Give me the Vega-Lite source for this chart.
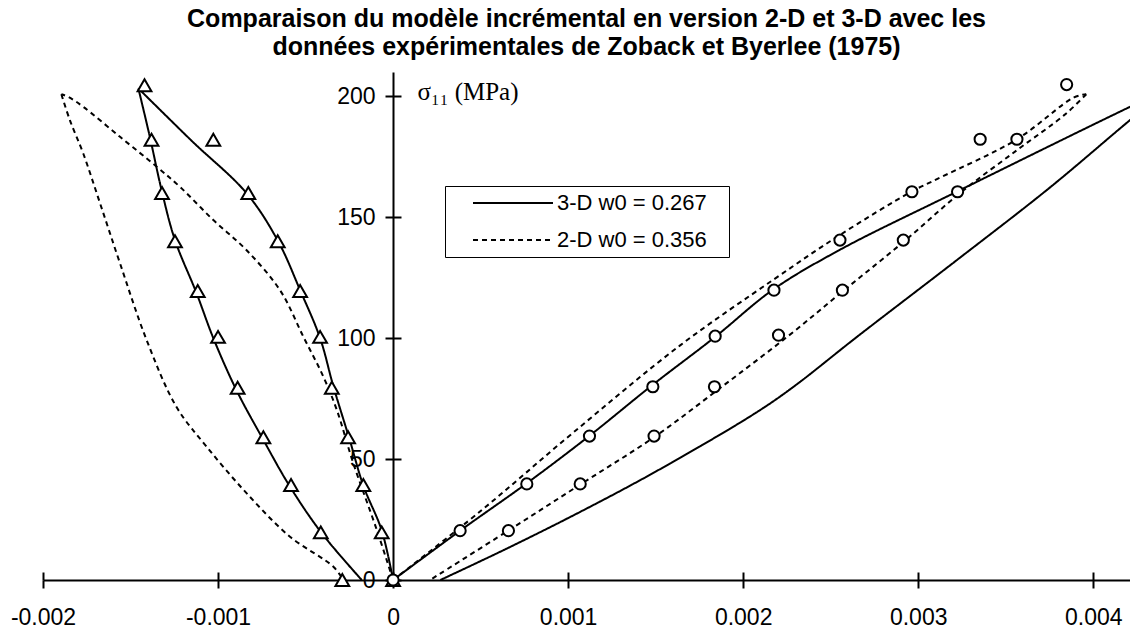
{
  "$schema": "https://vega.github.io/schema/vega-lite/v6.json",
  "width": 1087,
  "height": 508,
  "autosize": {"type": "none"},
  "padding": {"left": 43, "top": 72, "right": 0, "bottom": 48},
  "background": "white",
  "config": {"view": {"stroke": null}, "font": "Liberation Sans"},
  "title": {
    "text": ["Comparaison du modèle incrémental en version 2-D et 3-D avec les", "données expérimentales de Zoback et Byerlee (1975)"],
    "font": "Liberation Sans",
    "fontSize": 25,
    "fontWeight": "bold",
    "color": "black",
    "anchor": "middle",
    "frame": "group",
    "lineHeight": 28,
    "offset": 12
  },
  "datasets": {
    "curves": [
      {"model": "3-D w0 = 0.267", "curve": "3D-lat-load", "i": 0, "strain": 0, "stress": 0},
      {"model": "3-D w0 = 0.267", "curve": "3D-lat-load", "i": 1, "strain": -0.000065, "stress": 20.5},
      {"model": "3-D w0 = 0.267", "curve": "3D-lat-load", "i": 2, "strain": -0.00017, "stress": 39},
      {"model": "3-D w0 = 0.267", "curve": "3D-lat-load", "i": 3, "strain": -0.000248, "stress": 58},
      {"model": "3-D w0 = 0.267", "curve": "3D-lat-load", "i": 4, "strain": -0.000341, "stress": 80},
      {"model": "3-D w0 = 0.267", "curve": "3D-lat-load", "i": 5, "strain": -0.000417, "stress": 100},
      {"model": "3-D w0 = 0.267", "curve": "3D-lat-load", "i": 6, "strain": -0.000531, "stress": 119.8},
      {"model": "3-D w0 = 0.267", "curve": "3D-lat-load", "i": 7, "strain": -0.000655, "stress": 139.8},
      {"model": "3-D w0 = 0.267", "curve": "3D-lat-load", "i": 8, "strain": -0.000836, "stress": 159.8},
      {"model": "3-D w0 = 0.267", "curve": "3D-lat-load", "i": 9, "strain": -0.00115, "stress": 181.5},
      {"model": "3-D w0 = 0.267", "curve": "3D-lat-load", "i": 10, "strain": -0.001455, "stress": 203.2},
      {"model": "3-D w0 = 0.267", "curve": "3D-lat-unload", "i": 0, "strain": -0.001455, "stress": 203.2},
      {"model": "3-D w0 = 0.267", "curve": "3D-lat-unload", "i": 1, "strain": -0.001389, "stress": 183},
      {"model": "3-D w0 = 0.267", "curve": "3D-lat-unload", "i": 2, "strain": -0.001322, "stress": 161},
      {"model": "3-D w0 = 0.267", "curve": "3D-lat-unload", "i": 3, "strain": -0.001246, "stress": 140.5},
      {"model": "3-D w0 = 0.267", "curve": "3D-lat-unload", "i": 4, "strain": -0.001124, "stress": 118.8},
      {"model": "3-D w0 = 0.267", "curve": "3D-lat-unload", "i": 5, "strain": -0.001027, "stress": 100},
      {"model": "3-D w0 = 0.267", "curve": "3D-lat-unload", "i": 6, "strain": -0.000895, "stress": 78.5},
      {"model": "3-D w0 = 0.267", "curve": "3D-lat-unload", "i": 7, "strain": -0.000741, "stress": 57.9},
      {"model": "3-D w0 = 0.267", "curve": "3D-lat-unload", "i": 8, "strain": -0.000589, "stress": 38.6},
      {"model": "3-D w0 = 0.267", "curve": "3D-lat-unload", "i": 9, "strain": -0.000407, "stress": 19.3},
      {"model": "3-D w0 = 0.267", "curve": "3D-lat-unload", "i": 10, "strain": -0.000179, "stress": 0},
      {"model": "3-D w0 = 0.267", "curve": "3D-ax-load", "i": 0, "strain": 0, "stress": 0},
      {"model": "3-D w0 = 0.267", "curve": "3D-ax-load", "i": 1, "strain": 0.000383, "stress": 20.4},
      {"model": "3-D w0 = 0.267", "curve": "3D-ax-load", "i": 2, "strain": 0.000764, "stress": 40},
      {"model": "3-D w0 = 0.267", "curve": "3D-ax-load", "i": 3, "strain": 0.00112, "stress": 59.5},
      {"model": "3-D w0 = 0.267", "curve": "3D-ax-load", "i": 4, "strain": 0.00148, "stress": 80.5},
      {"model": "3-D w0 = 0.267", "curve": "3D-ax-load", "i": 5, "strain": 0.00184, "stress": 100.5},
      {"model": "3-D w0 = 0.267", "curve": "3D-ax-load", "i": 6, "strain": 0.00217, "stress": 120},
      {"model": "3-D w0 = 0.267", "curve": "3D-ax-load", "i": 7, "strain": 0.00255, "stress": 136.4},
      {"model": "3-D w0 = 0.267", "curve": "3D-ax-load", "i": 8, "strain": 0.00322, "stress": 160.5},
      {"model": "3-D w0 = 0.267", "curve": "3D-ax-load", "i": 9, "strain": 0.00421, "stress": 195.6},
      {"model": "3-D w0 = 0.267", "curve": "3D-ax-load", "i": 10, "strain": 0.00443, "stress": 203},
      {"model": "3-D w0 = 0.267", "curve": "3D-ax-unload", "i": 0, "strain": 0.00443, "stress": 203},
      {"model": "3-D w0 = 0.267", "curve": "3D-ax-unload", "i": 1, "strain": 0.00421, "stress": 190.1},
      {"model": "3-D w0 = 0.267", "curve": "3D-ax-unload", "i": 2, "strain": 0.00375, "stress": 162.1},
      {"model": "3-D w0 = 0.267", "curve": "3D-ax-unload", "i": 3, "strain": 0.00322, "stress": 132.2},
      {"model": "3-D w0 = 0.267", "curve": "3D-ax-unload", "i": 4, "strain": 0.00265, "stress": 100.5},
      {"model": "3-D w0 = 0.267", "curve": "3D-ax-unload", "i": 5, "strain": 0.00229, "stress": 80},
      {"model": "3-D w0 = 0.267", "curve": "3D-ax-unload", "i": 6, "strain": 0.00207, "stress": 69},
      {"model": "3-D w0 = 0.267", "curve": "3D-ax-unload", "i": 7, "strain": 0.0015, "stress": 44.8},
      {"model": "3-D w0 = 0.267", "curve": "3D-ax-unload", "i": 8, "strain": 0.00107, "stress": 28.2},
      {"model": "3-D w0 = 0.267", "curve": "3D-ax-unload", "i": 9, "strain": 0.00065, "stress": 13},
      {"model": "3-D w0 = 0.267", "curve": "3D-ax-unload", "i": 10, "strain": 0.00027, "stress": 0},
      {"model": "2-D w0 = 0.356", "curve": "2D-lat-load", "i": 0, "strain": 0, "stress": 0},
      {"model": "2-D w0 = 0.356", "curve": "2D-lat-load", "i": 1, "strain": -0.000093, "stress": 20.7},
      {"model": "2-D w0 = 0.356", "curve": "2D-lat-load", "i": 2, "strain": -0.000227, "stress": 48.2},
      {"model": "2-D w0 = 0.356", "curve": "2D-lat-load", "i": 3, "strain": -0.00032, "stress": 70},
      {"model": "2-D w0 = 0.356", "curve": "2D-lat-load", "i": 4, "strain": -0.000398, "stress": 84},
      {"model": "2-D w0 = 0.356", "curve": "2D-lat-load", "i": 5, "strain": -0.000512, "stress": 100.5},
      {"model": "2-D w0 = 0.356", "curve": "2D-lat-load", "i": 6, "strain": -0.000646, "stress": 119.8},
      {"model": "2-D w0 = 0.356", "curve": "2D-lat-load", "i": 7, "strain": -0.000838, "stress": 136.4},
      {"model": "2-D w0 = 0.356", "curve": "2D-lat-load", "i": 8, "strain": -0.001027, "stress": 148.8},
      {"model": "2-D w0 = 0.356", "curve": "2D-lat-load", "i": 9, "strain": -0.001217, "stress": 162.5},
      {"model": "2-D w0 = 0.356", "curve": "2D-lat-load", "i": 10, "strain": -0.00135, "stress": 170.8},
      {"model": "2-D w0 = 0.356", "curve": "2D-lat-load", "i": 11, "strain": -0.00156, "stress": 183.2},
      {"model": "2-D w0 = 0.356", "curve": "2D-lat-load", "i": 12, "strain": -0.00177, "stress": 195.6},
      {"model": "2-D w0 = 0.356", "curve": "2D-lat-load", "i": 13, "strain": -0.00185, "stress": 199.5},
      {"model": "2-D w0 = 0.356", "curve": "2D-lat-load", "i": 14, "strain": -0.001895, "stress": 200.8},
      {"model": "2-D w0 = 0.356", "curve": "2D-lat-unload", "i": 0, "strain": -0.001895, "stress": 200.8},
      {"model": "2-D w0 = 0.356", "curve": "2D-lat-unload", "i": 1, "strain": -0.001846, "stress": 190},
      {"model": "2-D w0 = 0.356", "curve": "2D-lat-unload", "i": 2, "strain": -0.00177, "stress": 176.3},
      {"model": "2-D w0 = 0.356", "curve": "2D-lat-unload", "i": 3, "strain": -0.001674, "stress": 155.7},
      {"model": "2-D w0 = 0.356", "curve": "2D-lat-unload", "i": 4, "strain": -0.00156, "stress": 130.9},
      {"model": "2-D w0 = 0.356", "curve": "2D-lat-unload", "i": 5, "strain": -0.001408, "stress": 99.2},
      {"model": "2-D w0 = 0.356", "curve": "2D-lat-unload", "i": 6, "strain": -0.001238, "stress": 71.6},
      {"model": "2-D w0 = 0.356", "curve": "2D-lat-unload", "i": 7, "strain": -0.001065, "stress": 55.1},
      {"model": "2-D w0 = 0.356", "curve": "2D-lat-unload", "i": 8, "strain": -0.000836, "stress": 35.8},
      {"model": "2-D w0 = 0.356", "curve": "2D-lat-unload", "i": 9, "strain": -0.000589, "stress": 17.9},
      {"model": "2-D w0 = 0.356", "curve": "2D-lat-unload", "i": 10, "strain": -0.000341, "stress": 5.5},
      {"model": "2-D w0 = 0.356", "curve": "2D-lat-unload", "i": 11, "strain": -0.000284, "stress": 0},
      {"model": "2-D w0 = 0.356", "curve": "2D-ax-load", "i": 0, "strain": 0, "stress": 0},
      {"model": "2-D w0 = 0.356", "curve": "2D-ax-load", "i": 1, "strain": 0.0005, "stress": 28.5},
      {"model": "2-D w0 = 0.356", "curve": "2D-ax-load", "i": 2, "strain": 0.00103, "stress": 61},
      {"model": "2-D w0 = 0.356", "curve": "2D-ax-load", "i": 3, "strain": 0.00164, "stress": 97},
      {"model": "2-D w0 = 0.356", "curve": "2D-ax-load", "i": 4, "strain": 0.00218, "stress": 124.5},
      {"model": "2-D w0 = 0.356", "curve": "2D-ax-load", "i": 5, "strain": 0.00255, "stress": 142.5},
      {"model": "2-D w0 = 0.356", "curve": "2D-ax-load", "i": 6, "strain": 0.00296, "stress": 160.5},
      {"model": "2-D w0 = 0.356", "curve": "2D-ax-load", "i": 7, "strain": 0.00313, "stress": 166.5},
      {"model": "2-D w0 = 0.356", "curve": "2D-ax-load", "i": 8, "strain": 0.00356, "stress": 182},
      {"model": "2-D w0 = 0.356", "curve": "2D-ax-load", "i": 9, "strain": 0.00389, "stress": 199.5},
      {"model": "2-D w0 = 0.356", "curve": "2D-ax-load", "i": 10, "strain": 0.00396, "stress": 200.8},
      {"model": "2-D w0 = 0.356", "curve": "2D-ax-unload", "i": 0, "strain": 0.00396, "stress": 200.8},
      {"model": "2-D w0 = 0.356", "curve": "2D-ax-unload", "i": 1, "strain": 0.00384, "stress": 192.5},
      {"model": "2-D w0 = 0.356", "curve": "2D-ax-unload", "i": 2, "strain": 0.00357, "stress": 178},
      {"model": "2-D w0 = 0.356", "curve": "2D-ax-unload", "i": 3, "strain": 0.00324, "stress": 160},
      {"model": "2-D w0 = 0.356", "curve": "2D-ax-unload", "i": 4, "strain": 0.00292, "stress": 140},
      {"model": "2-D w0 = 0.356", "curve": "2D-ax-unload", "i": 5, "strain": 0.00258, "stress": 120},
      {"model": "2-D w0 = 0.356", "curve": "2D-ax-unload", "i": 6, "strain": 0.00226, "stress": 101},
      {"model": "2-D w0 = 0.356", "curve": "2D-ax-unload", "i": 7, "strain": 0.00188, "stress": 80},
      {"model": "2-D w0 = 0.356", "curve": "2D-ax-unload", "i": 8, "strain": 0.00149, "stress": 59},
      {"model": "2-D w0 = 0.356", "curve": "2D-ax-unload", "i": 9, "strain": 0.00107, "stress": 39.5},
      {"model": "2-D w0 = 0.356", "curve": "2D-ax-unload", "i": 10, "strain": 0.00066, "stress": 20.5},
      {"model": "2-D w0 = 0.356", "curve": "2D-ax-unload", "i": 11, "strain": 0.000211, "stress": 0}
    ],
    "measures": [
      {"serie": "lateral", "strain": -0.00142, "stress": 204.5},
      {"serie": "lateral", "strain": -0.00138, "stress": 182},
      {"serie": "lateral", "strain": -0.00132, "stress": 160},
      {"serie": "lateral", "strain": -0.001246, "stress": 140},
      {"serie": "lateral", "strain": -0.001116, "stress": 119.5},
      {"serie": "lateral", "strain": -0.001, "stress": 100.5},
      {"serie": "lateral", "strain": -0.000888, "stress": 79.5},
      {"serie": "lateral", "strain": -0.000741, "stress": 59},
      {"serie": "lateral", "strain": -0.000583, "stress": 39.3},
      {"serie": "lateral", "strain": -0.000413, "stress": 19.7},
      {"serie": "lateral", "strain": -0.00029, "stress": 0},
      {"serie": "lateral", "strain": -0.001027, "stress": 182},
      {"serie": "lateral", "strain": -0.000827, "stress": 160},
      {"serie": "lateral", "strain": -0.000659, "stress": 140},
      {"serie": "lateral", "strain": -0.000531, "stress": 119.5},
      {"serie": "lateral", "strain": -0.000417, "stress": 100.5},
      {"serie": "lateral", "strain": -0.00035, "stress": 79.5},
      {"serie": "lateral", "strain": -0.000257, "stress": 59},
      {"serie": "lateral", "strain": -0.00017, "stress": 39.3},
      {"serie": "lateral", "strain": -0.000065, "stress": 19.7},
      {"serie": "lateral", "strain": 0, "stress": 0},
      {"serie": "axial", "strain": 0, "stress": 0},
      {"serie": "axial", "strain": 0.000383, "stress": 20.4},
      {"serie": "axial", "strain": 0.000659, "stress": 20.4},
      {"serie": "axial", "strain": 0.000764, "stress": 39.7},
      {"serie": "axial", "strain": 0.001069, "stress": 39.7},
      {"serie": "axial", "strain": 0.001122, "stress": 59.5},
      {"serie": "axial", "strain": 0.001491, "stress": 59.5},
      {"serie": "axial", "strain": 0.001484, "stress": 79.9},
      {"serie": "axial", "strain": 0.001836, "stress": 79.9},
      {"serie": "axial", "strain": 0.00184, "stress": 100.8},
      {"serie": "axial", "strain": 0.002202, "stress": 101.2},
      {"serie": "axial", "strain": 0.002176, "stress": 119.8},
      {"serie": "axial", "strain": 0.002567, "stress": 119.8},
      {"serie": "axial", "strain": 0.002553, "stress": 140.5},
      {"serie": "axial", "strain": 0.002915, "stress": 140.5},
      {"serie": "axial", "strain": 0.002964, "stress": 160.5},
      {"serie": "axial", "strain": 0.003225, "stress": 160.5},
      {"serie": "axial", "strain": 0.003354, "stress": 182.2},
      {"serie": "axial", "strain": 0.003564, "stress": 182.2},
      {"serie": "axial", "strain": 0.003848, "stress": 204.8}
    ]
  },
  "layer": [
    {
      "data": {"name": "curves"},
      "mark": {"type": "line", "clip": true, "color": "black", "strokeWidth": 2, "interpolate": "catmull-rom"},
      "encoding": {
        "x": {
          "field": "strain", "type": "quantitative",
          "scale": {"domain": [-0.002, 0.00421], "nice": false, "zero": false},
          "axis": {
            "orient": "bottom", "title": null, "grid": false,
            "values": [-0.002, -0.001, 0, 0.001, 0.002, 0.003, 0.004],
            "labelExpr": "datum.value == 0 ? '0' : (datum.value < 0 ? '-' : '') + format(abs(datum.value), '.3f')",
            "tickSize": 8, "tickWidth": 2, "tickColor": "black",
            "domainColor": "black", "domainWidth": 2,
            "labelFont": "Liberation Sans", "labelFontSize": 23, "labelColor": "black",
            "labelPadding": 18, "labelOverlap": false, "labelFlush": false
          }
        },
        "y": {
          "field": "stress", "type": "quantitative",
          "scale": {"domain": [0, 210], "nice": false, "zero": false},
          "axis": {
            "orient": "left", "offset": -350, "title": null, "grid": false,
            "values": [0, 50, 100, 150, 200],
            "tickSize": 8, "tickWidth": 2, "tickColor": "black",
            "domainColor": "black", "domainWidth": 2,
            "labelFont": "Liberation Sans", "labelFontSize": 23, "labelColor": "black",
            "labelPadding": 10, "labelOverlap": false, "labelFlush": false
          }
        },
        "detail": {"field": "curve", "type": "nominal"},
        "order": {"field": "i", "type": "quantitative"},
        "strokeDash": {
          "field": "model", "type": "nominal",
          "scale": {"domain": ["3-D w0 = 0.267", "2-D w0 = 0.356"], "range": [[1, 0], [5, 4]]},
          "legend": {
            "orient": "none", "legendX": 402, "legendY": 114, "title": null,
            "symbolType": "M-4,0L4,0", "symbolSize": 400, "symbolStrokeWidth": 2,
            "symbolStrokeColor": "black", "symbolFillColor": "transparent",
            "symbolOffset": 51, "labelOffset": 33,
            "labelFont": "Liberation Sans", "labelFontSize": 22, "labelColor": "black",
            "labelExpr": "datum.label + '\u2800'", "labelLimit": 400,
            "padding": 6, "rowPadding": 15,
            "strokeColor": "black", "fillColor": "white"
          }
        }
      }
    },
    {
      "data": {"name": "measures"},
      "mark": {"type": "point", "filled": true, "fill": "white", "stroke": "black", "strokeWidth": 2, "opacity": 1},
      "encoding": {
        "x": {
          "field": "strain", "type": "quantitative",
          "scale": {"domain": [-0.002, 0.00421], "nice": false, "zero": false},
          "axis": {
            "orient": "top", "offset": -508, "title": null, "grid": false,
            "values": [-0.002, -0.001, 0, 0.001, 0.002, 0.003, 0.004],
            "labels": false, "domain": false,
            "tickSize": 8, "tickWidth": 2, "tickColor": "black"
          }
        },
        "y": {
          "field": "stress", "type": "quantitative",
          "scale": {"domain": [0, 210], "nice": false, "zero": false},
          "axis": {
            "orient": "right", "offset": -737, "grid": false,
            "values": [0, 50, 100, 150, 200],
            "labels": false, "domain": false,
            "tickSize": 8, "tickWidth": 2, "tickColor": "black",
            "title": "σ₁₁ (MPa)", "titleAngle": 0, "titleAlign": "left", "titleBaseline": "alphabetic",
            "titleX": 24, "titleY": 27, "titleFont": "Liberation Serif", "titleFontSize": 25,
            "titleFontWeight": "normal", "titleColor": "black"
          }
        },
        "shape": {
          "field": "serie", "type": "nominal",
          "scale": {"domain": ["lateral", "axial"], "range": ["triangle-up", "circle"]},
          "legend": null
        },
        "size": {
          "field": "serie", "type": "ordinal",
          "scale": {"domain": ["lateral", "axial"], "range": [190, 125]},
          "legend": null
        }
      }
    }
  ],
  "resolve": {"axis": {"x": "independent", "y": "independent"}}
}
